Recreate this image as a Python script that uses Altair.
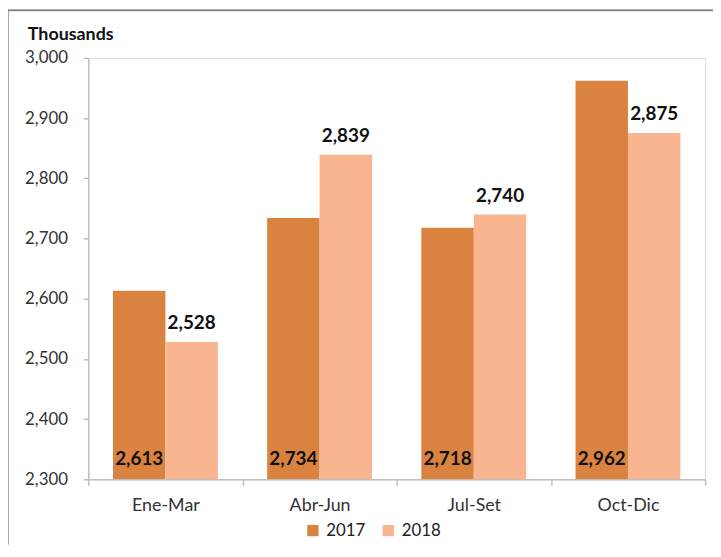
import altair as alt
import pandas as pd

quarters = ["Ene-Mar", "Abr-Jun", "Jul-Set", "Oct-Dic"]
years = ["2017", "2018"]
values_2017 = [2613, 2734, 2718, 2962]
values_2018 = [2528, 2839, 2740, 2875]
colors = ["#DA8340", "#F8B58F"]

rows = []
for q, a, b in zip(quarters, values_2017, values_2018):
    rows.append({"q": q, "year": "2017", "v": a})
    rows.append({"q": q, "year": "2018", "v": b})
df = pd.DataFrame(rows)

W, H = 622, 425
FONT = "Lato"

x_enc = alt.X("q:N", sort=quarters, title=None,
              scale=alt.Scale(paddingInner=0, paddingOuter=0),
              axis=alt.Axis(labelAngle=0, labelFontSize=18, labelColor="#333333",
                            labelFont=FONT, labelPadding=11, tickBand="extent",
                            tickSize=6, domainColor="#BFBFBF", tickColor="#BFBFBF",
                            domainWidth=1.5, tickWidth=1.5))
xo = alt.XOffset("year:N", sort=years, scale=alt.Scale(paddingInner=0, paddingOuter=0.47))
y_scale = alt.Scale(domain=[2300, 3000], nice=False, zero=False)

bars = alt.Chart(df).mark_bar(clip=True).encode(
    x=x_enc,
    xOffset=xo,
    y=alt.Y("v:Q", scale=y_scale, title=None,
            axis=alt.Axis(values=[2300, 2400, 2500, 2600, 2700, 2800, 2900, 3000],
                          format=",.0f", labelFontSize=17, labelColor="#333333",
                          labelFont=FONT, labelPadding=16, grid=False,
                          tickSize=5, domainColor="#BFBFBF", tickColor="#BFBFBF",
                          domainWidth=1.5, tickWidth=1.5)),
    y2=alt.datum(2300),
    color=alt.Color("year:N", sort=years,
                    scale=alt.Scale(domain=years, range=colors),
                    legend=alt.Legend(title=None, orient="none", direction="horizontal",
                                      legendX=218, legendY=468, symbolType="square",
                                      symbolSize=130, symbolStrokeWidth=0,
                                      labelFontSize=17, labelFont=FONT,
                                      labelColor="#222222", columnPadding=14,
                                      labelOffset=5)),
)

lab17 = alt.Chart(df[df.year == "2017"]).mark_text(
    font=FONT, fontSize=19, fontWeight="bold", color="#111111", dy=-20
).encode(
    x=alt.X("q:N", sort=quarters),
    xOffset=xo,
    y=alt.datum(2300),
    text=alt.Text("v:Q", format=",.0f"),
    detail="year:N",
)

lab18 = alt.Chart(df[df.year == "2018"]).mark_text(
    font=FONT, fontSize=19, fontWeight="bold", color="#111111", dy=-19
).encode(
    x=alt.X("q:N", sort=quarters),
    xOffset=xo,
    y=alt.Y("v:Q"),
    text=alt.Text("v:Q", format=",.0f"),
    detail="year:N",
)

frame_data = alt.Data(values=[{"k": 1}])
top_line = alt.Chart(frame_data).mark_rule(color="#888888", strokeWidth=2).encode(
    x=alt.value(-81), x2=alt.value(W + 10), y=alt.value(-48)
)
left_line = alt.Chart(frame_data).mark_rule(color="#888888", strokeWidth=1.5).encode(
    x=alt.value(-81), y=alt.value(-48), y2=alt.value(H + 66)
)
title_t = alt.Chart(frame_data).mark_text(
    text="Thousands", font=FONT, fontSize=18, fontWeight="bold", color="#111111",
    align="left", baseline="middle"
).encode(x=alt.value(-61), y=alt.value(-23))

chart = alt.layer(bars, lab17, lab18, top_line, left_line, title_t).properties(
    width=W, height=H,
    autosize=alt.AutoSizeParams(type="none"),
    padding={"left": 81, "top": 48, "right": 8, "bottom": 66},
).configure_view(stroke=None).configure(background="white")

chart.save("out.html", embed_options={"renderer": "svg", "actions": False})
